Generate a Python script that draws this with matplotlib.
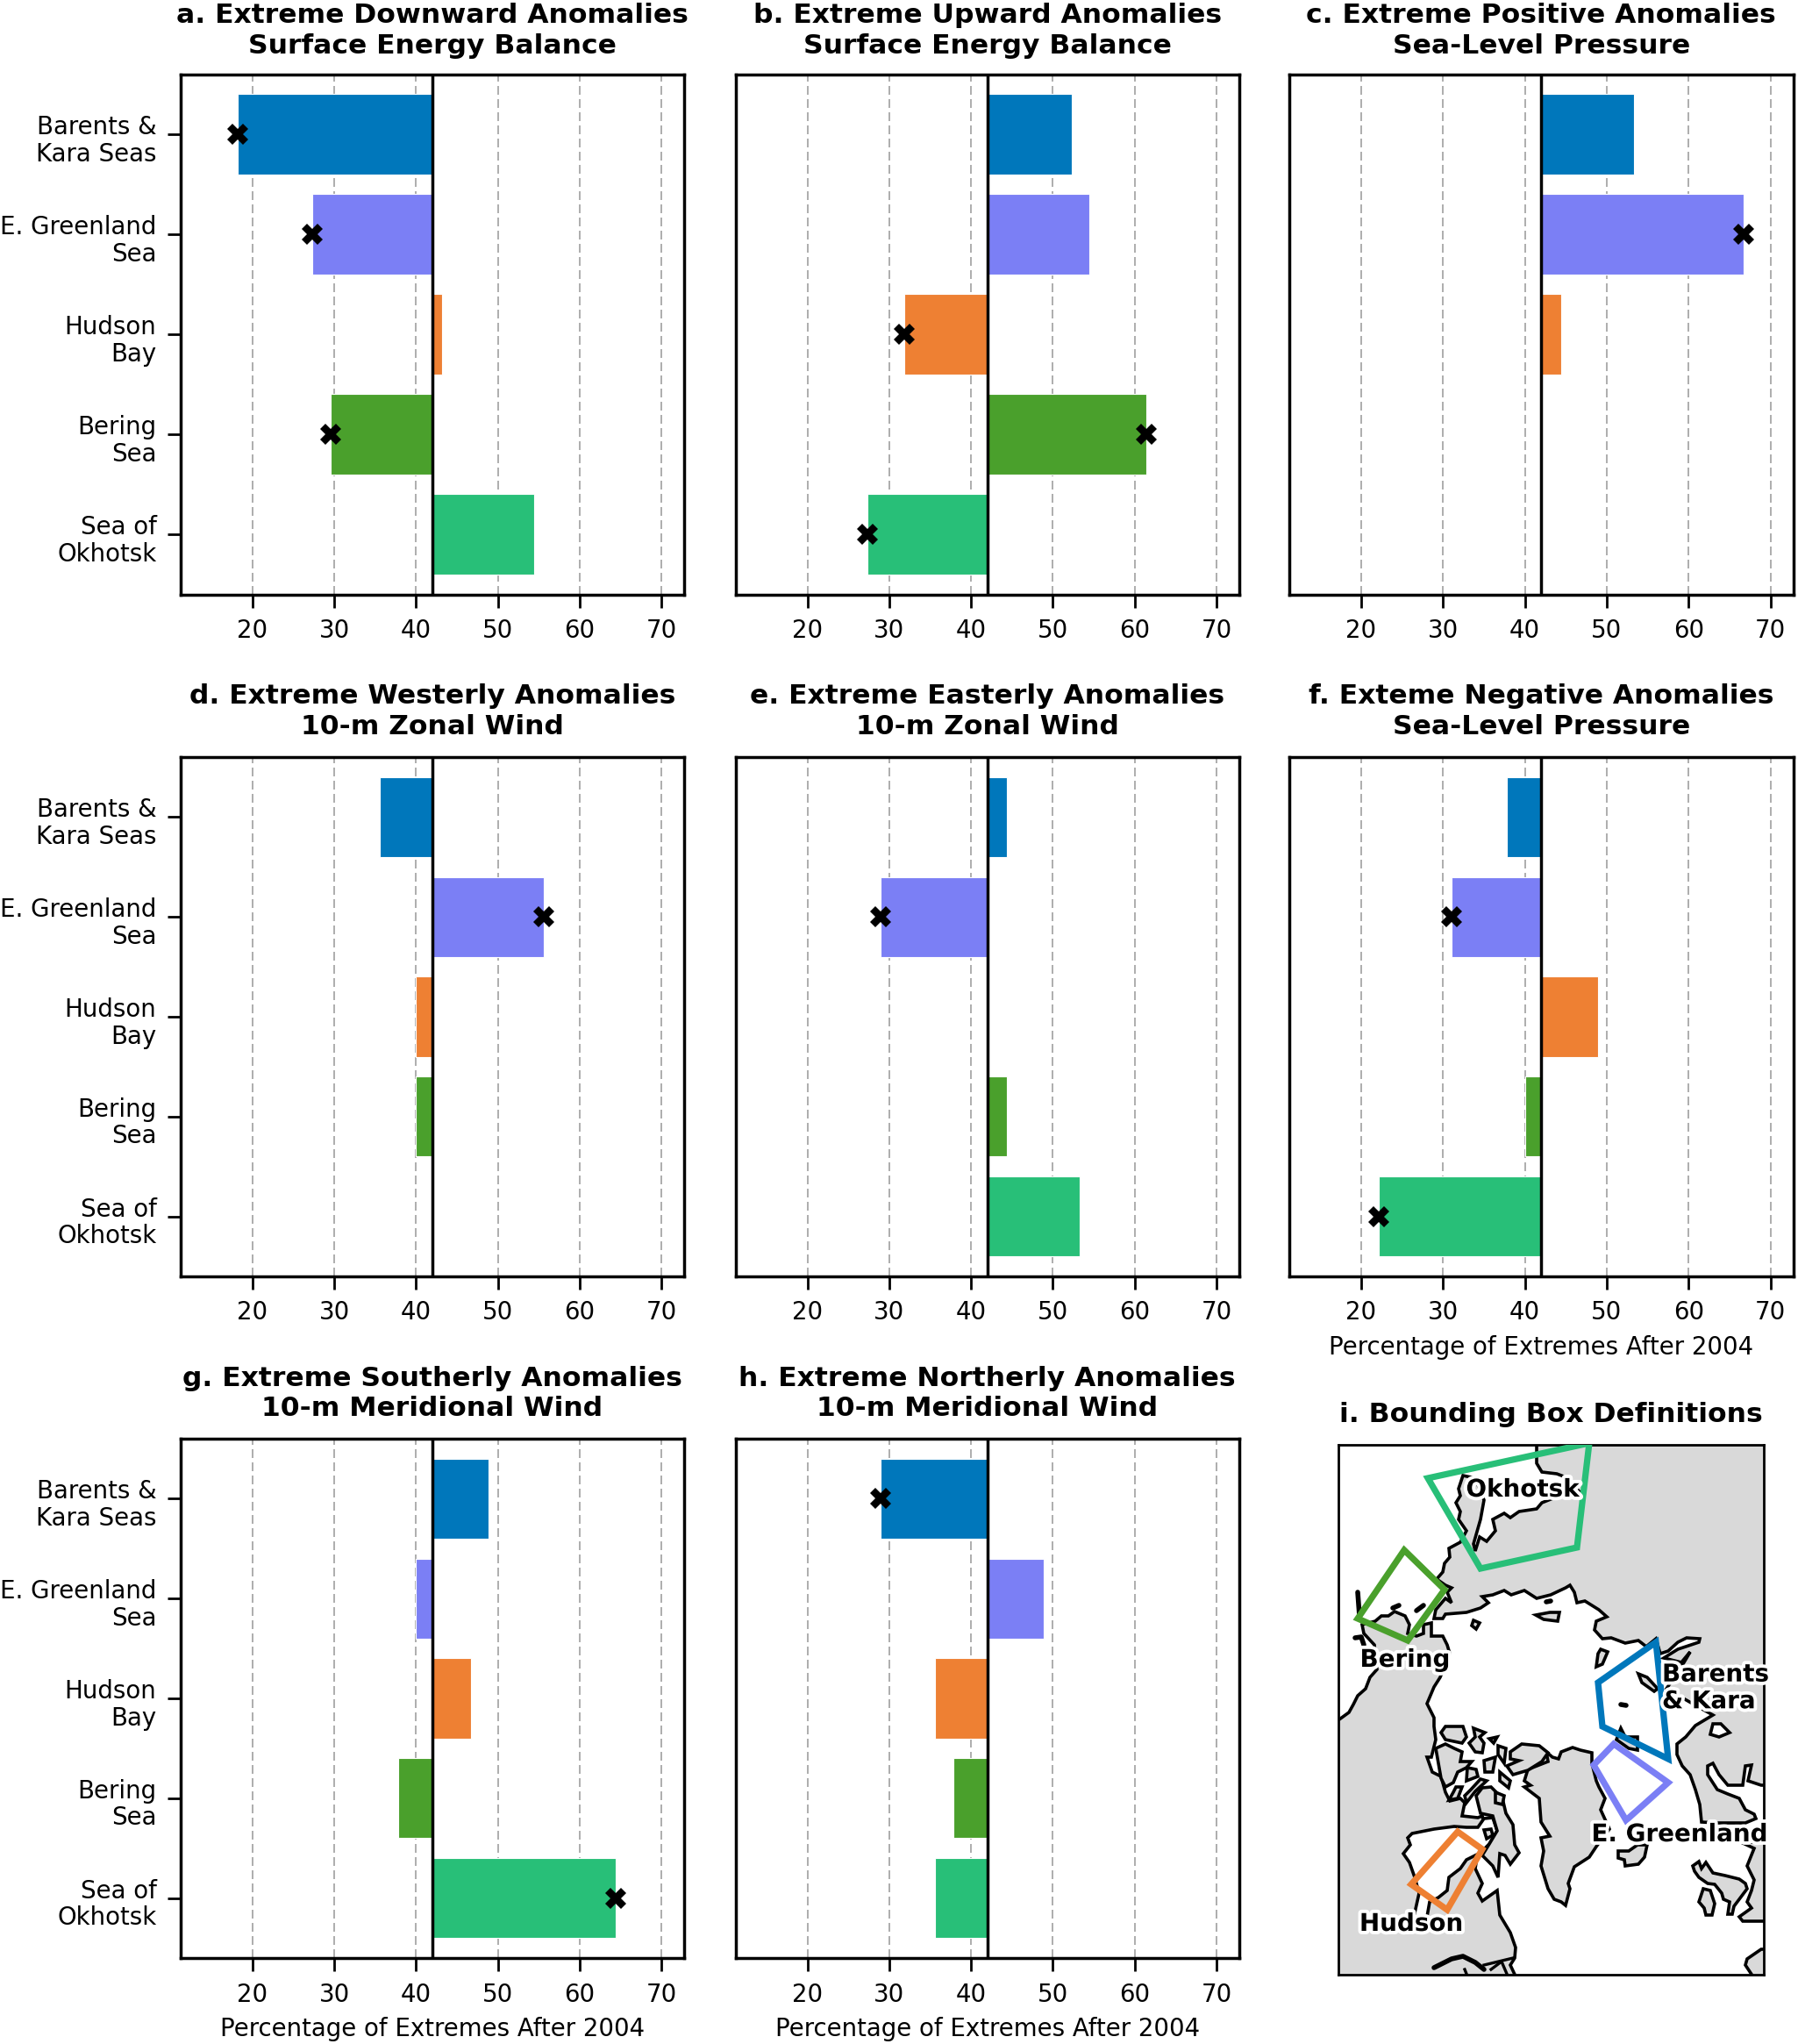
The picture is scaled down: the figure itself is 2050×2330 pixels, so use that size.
import matplotlib
matplotlib.use('Agg')
import matplotlib.pyplot as plt
from matplotlib.patches import Polygon
from matplotlib.transforms import ScaledTranslation
import matplotlib.patheffects as pe

W, H = 2050, 2330

regions = ["Barents &\nKara Seas", "E. Greenland\nSea", "Hudson\nBay", "Bering\nSea", "Sea of\nOkhotsk"]
colors = ["#0077bb", "#7b7ff5", "#ee8033", "#4aa02c", "#28bf78"]
xticks = [20, 30, 40, 50, 60, 70]
base = 42.0

titles = ["a. Extreme Downward Anomalies\nSurface Energy Balance",
          "b. Extreme Upward Anomalies\nSurface Energy Balance",
          "c. Extreme Positive Anomalies\nSea-Level Pressure",
          "d. Extreme Westerly Anomalies\n10-m Zonal Wind",
          "e. Extreme Easterly Anomalies\n10-m Zonal Wind",
          "f. Exteme Negative Anomalies\nSea-Level Pressure",
          "g. Extreme Southerly Anomalies\n10-m Meridional Wind",
          "h. Extreme Northerly Anomalies\n10-m Meridional Wind"]

vals_a = [18.2, 27.3, 43.2, 29.6, 54.5]
vals_b = [52.3, 54.5, 31.8, 61.4, 27.3]
vals_c = [53.3, 66.7, 44.4, 42.0, 42.0]
vals_d = [35.6, 55.6, 40.0, 40.0, 42.0]
vals_e = [44.4, 28.9, 42.0, 44.4, 53.3]
vals_f = [37.8, 31.1, 48.9, 40.0, 22.2]
vals_g = [48.9, 40.0, 46.7, 37.8, 64.4]
vals_h = [28.9, 48.9, 35.6, 37.8, 35.6]
all_vals = [vals_a, vals_b, vals_c, vals_d, vals_e, vals_f, vals_g, vals_h]

# which regions are significant in each panel
sig_a = [0, 1, 3]
sig_b = [2, 3, 4]
sig_c = [1]
sig_d = [1]
sig_e = [1]
sig_f = [1, 4]
sig_g = [4]
sig_h = [0]
all_sig = [sig_a, sig_b, sig_c, sig_d, sig_e, sig_f, sig_g, sig_h]

xlabel = "Percentage of Extremes After 2004"

# map outlines, in its pixel coords
eurasia = [(1752,1647),(1752,1668),(1758,1678),(1775,1680),(1788,1685),(1802,1702),(1778,1705),(1758,1713),
           (1752,1720),(1732,1723),(1722,1730),(1715,1725),(1702,1732),(1705,1745),(1695,1757),(1687,1752),
           (1682,1768),(1680,1760),(1688,1732),(1692,1710),(1682,1685),(1668,1682),(1663,1697),(1665,1705),
           (1660,1713),(1665,1723),(1663,1732),(1672,1745),(1665,1758),(1652,1765),(1653,1775),(1647,1782),
           (1645,1792),(1638,1800),(1648,1807),(1655,1810),(1650,1815),(1655,1827),(1648,1822),(1637,1835),
           (1635,1845),(1645,1845),(1648,1840),(1672,1838),(1688,1833),(1697,1827),(1690,1820),(1702,1818),
           (1715,1813),(1723,1818),(1738,1813),(1752,1822),(1768,1818),(1785,1810),(1790,1807),(1795,1815),
           (1798,1827),(1807,1825),(1823,1835),(1832,1843),(1820,1848),(1818,1858),(1827,1868),(1837,1867),
           (1853,1873),(1868,1870),(1877,1877),(1888,1868),(1893,1885),(1902,1882),(1913,1872),(1923,1867),
           (1938,1868),(1937,1872),(1913,1880),(1897,1890),(1917,1895),(1927,1883),(1923,1890),(1917,1900),
           (1900,1925),(1935,1945),(1953,1955),(1933,1967),(1922,1980),(1912,1988),(1912,2000),(1918,2013),
           (1927,2023),(1933,2040),(1938,2057),(1940,2077),(1957,2078),(1990,2078),(2002,2073),(2000,2068),
           (1990,2063),(1983,2050),(1970,2045),(1958,2040),(1947,2023),(1947,2013),(1953,2010),(1960,2023),
           (1970,2035),(1987,2035),(1990,2013),(1997,2012),(1993,2030),(2008,2035),(2015,2035),(2015,1640),(1752,1640)]
white_sea = [(1953,1965),(1962,1965),(1972,1975),(1960,1980),(1950,1977)]
europe = [(1985,2100),(2000,2107),(1992,2127),(2000,2143),(1997,2155),(1992,2168),(1997,2175),(1983,2185),
          (1987,2190),(2015,2190),(2015,2100)]
iberia = [(2015,2222),(2008,2222),(1992,2233),(1990,2240),(2000,2255),(2015,2255)]
uk = [(1930,2127),(1937,2122),(1940,2130),(1945,2123),(1953,2135),(1967,2138),(1983,2142),(1990,2147),
      (1992,2153),(1977,2173),(1975,2182),(1970,2182),(1972,2168),(1965,2165),(1963,2158),(1955,2148),
      (1947,2147),(1937,2140),(1932,2133)]
ireland = [(1942,2153),(1950,2155),(1955,2170),(1952,2183),(1945,2183),(1943,2175),(1937,2168)]
iceland = [(1845,2110),(1857,2110),(1867,2103),(1878,2103),(1875,2117),(1868,2125),(1853,2127),(1852,2120),(1845,2118)]
greenland = [(1738,2037),(1755,2050),(1757,2077),(1767,2093),(1757,2095),(1760,2110),(1757,2127),(1765,2153),
             (1772,2165),(1780,2168),(1785,2172),(1790,2153),(1788,2147),(1795,2128),(1812,2117),(1820,2105),
             (1835,2085),(1825,2063),(1830,2050),(1823,2037),(1820,2030),(1815,2010),(1815,1998),(1802,1995),
             (1793,1992),(1780,1997),(1777,2005),(1770,2003),(1763,1997),(1765,2008),(1742,2017),(1738,2030),(1745,2035)]
america = [(1520,1962),(1527,1960),(1538,1952),(1543,1943),(1548,1933),(1557,1925),(1562,1912),(1570,1903),
           (1567,1875),(1555,1862),(1553,1852),(1568,1848),(1575,1842),(1583,1842),(1590,1837),(1602,1842),
           (1607,1852),(1605,1862),(1615,1865),(1623,1862),(1623,1852),(1632,1850),(1632,1865),(1645,1865),
           (1650,1875),(1653,1885),(1642,1912),(1635,1923),(1627,1942),(1635,1958),(1635,1968),(1637,1983),
           (1632,2003),(1627,2003),(1633,2020),(1643,2025),(1648,2043),(1653,2053),(1665,2050),(1670,2055),
           (1667,2070),(1685,2072),(1690,2070),(1692,2078),(1685,2110),(1682,2130),(1690,2147),(1685,2158),
           (1690,2167),(1707,2155),(1710,2183),(1722,2203),(1728,2220),(1727,2232),(1722,2240),(1729,2255),(1520,2255)]
hudson_bay = [(1605,2095),(1610,2090),(1635,2085),(1658,2082),(1672,2083),(1685,2083),(1692,2073),(1702,2072),
              (1707,2087),(1698,2102),(1688,2112),(1672,2120),(1665,2130),(1652,2140),(1650,2155),(1640,2163),
              (1630,2168),(1627,2185),(1612,2185),(1618,2158),(1613,2140),(1607,2123),(1600,2113),(1608,2103)]
baffin = [(1683,2047),(1690,2038),(1700,2037),(1713,2050),(1717,2067),(1725,2080),(1727,2103),(1732,2112),
          (1722,2125),(1716,2115),(1710,2113),(1708,2140),(1702,2127),(1692,2117),(1690,2115),(1698,2102),
          (1707,2087),(1702,2070),(1688,2067)]
islands = [[(1643,1975),(1648,1968),(1668,1968),(1672,1980),(1667,1987),(1648,1983)],
           [(1637,1993),(1648,1988),(1658,1993),(1667,1997),(1665,2008),(1678,2008),(1672,2015),(1662,2020),
            (1657,2032),(1648,2037),(1643,2027),(1640,2010)],
           [(1680,1970),(1693,1975),(1687,1980),(1692,1987),(1690,1998),(1682,1997),(1675,1987),(1682,1980)],
           [(1698,1982),(1707,1980),(1703,1987)],
           [(1708,1990),(1717,1993),(1715,2010),(1708,2000)],
           [(1692,2007),(1705,2003),(1702,2020),(1693,2020)],
           [(1722,1997),(1735,1988),(1755,1990),(1765,1998),(1758,2008),(1742,2018),(1725,2023),(1718,2013),(1732,2007),(1722,2005)],
           [(1673,2015),(1683,2017),(1685,2025),(1672,2030)],
           [(1705,2043),(1715,2047),(1713,2057),(1705,2055)],
           [(1710,2020),(1722,2030),(1720,2038),(1710,2030)],
           [(1660,2037),(1667,2037),(1662,2050),(1652,2052),(1657,2043)],
           [(1677,2040),(1688,2028),(1695,2030),(1682,2042),(1672,2055),(1670,2047)],
           [(1692,2086),(1700,2085),(1702,2092),(1695,2096)],
           [(1680,1847),(1687,1850),(1683,1857),(1678,1853)],
           [(1751,1841),(1767,1838),(1778,1838),(1776,1848),(1760,1846)],
           [(1825,1880),(1833,1883),(1827,1897),(1820,1900),(1822,1885)],
           [(1868,1908),(1878,1912),(1890,1925),(1886,1928),(1872,1918)],
           [(1843,1983),(1848,1970),(1853,1980),(1867,1980),(1867,1995),(1857,1993)]]
thick_bits = [[(1548,1815),(1550,1842)],[(1615,1836),(1623,1830)],[(1588,1833),(1595,1830)],
              [(1635,2243),(1655,2233),(1668,2230),(1682,2237),(1692,2245)],[(1848,1943),(1854,1944)],
              [(1763,1826),(1768,1825)],[(1545,1867),(1552,1866),(1555,1875)]]
thin_bits = [[(1692,2240),(1725,2232)],[(1670,2245),(1672,2250)],[(1700,2245),(1712,2236),(1718,2250)]]

box_barents = [(1888,1872),(1902,2005),(1827,1968),(1822,1918)]
box_greenland = [(1840,1988),(1902,2032),(1854,2075),(1817,2012)]
box_hudson = [(1662,2088),(1690,2108),(1650,2177),(1609,2148)]
box_bering = [(1601,1767),(1647,1812),(1605,1870),(1548,1845)]
box_okhotsk = [(1628,1685),(1812,1645),(1798,1764),(1688,1788)]
all_boxes = [box_barents, box_greenland, box_hudson, box_bering, box_okhotsk]

box_labels = ["Okhotsk", "Bering", "Barents\n& Kara", "E. Greenland", "Hudson"]
label_xy = [(1736,1698), (1602,1892), (1895,1924), (1915,2091), (1609,2193)]
label_ha = ["center", "center", "left", "center", "center"]

col_px = [(206, 780), (838.5, 1413), (1469.5, 2045)]
row_px = [(84.5, 677.5), (863, 1455), (1640, 2232)]
title_pad = [8.5, 9.5, 9.2]


def px_axes(fig, left, top, right, bottom):
    return fig.add_axes([left / W, 1 - bottom / H, (right - left) / W, (bottom - top) / H])


plt.rcParams['font.family'] = 'DejaVu Sans'
fig = plt.figure(figsize=(W / 200, H / 200), dpi=200)
label_shift = ScaledTranslation(0, -3 / 200, fig.dpi_scale_trans)

for i in range(8):
    c = col_px[i % 3]
    r = row_px[i // 3]
    ax = px_axes(fig, c[0], r[0], c[1], r[1])
    vals = all_vals[i]
    ax.grid(axis='x', color='#a0a0a0', linestyle=(0, (6, 3)), linewidth=0.6, zorder=0)
    ax.set_axisbelow(True)
    for j in range(5):
        ax.barh(j, vals[j] - base, left=base, height=0.8, color=colors[j],
                edgecolor='white', linewidth=0.4, zorder=2)
    ax.axvline(base, color='k', linewidth=1.25, zorder=3)
    for j in all_sig[i]:
        ax.plot(vals[j], j, marker='X', color='k', markersize=8.5, markeredgewidth=0, zorder=4)
    ax.set_xlim(11.2, 72.8)
    ax.set_ylim(4.6, -0.6)
    ax.set_xticks(xticks)
    ax.set_yticks(range(5))
    ax.tick_params(axis='x', labelsize=9.95, length=5.4, width=1, pad=4.5)
    if i % 3 == 0:
        ax.set_yticklabels(regions, ha='right', multialignment='right', linespacing=1.12, va='center_baseline')
        ax.tick_params(axis='y', labelsize=9.95, length=5.4, width=1, pad=4.5)
        for lab in ax.get_yticklabels():
            lab.set_transform(lab.get_transform() + label_shift)
    else:
        ax.set_yticklabels([])
        ax.tick_params(axis='y', length=0)
    for s in ax.spines.values():
        s.set_linewidth(1.25)
    ax.set_title(titles[i], fontsize=11.3, fontweight='bold', pad=title_pad[i // 3], linespacing=1.25)
    if i >= 5:
        ax.set_xlabel(xlabel, fontsize=9.95, labelpad=4)

# map panel
mp = px_axes(fig, 1526, 1647, 2011, 2251)
mp.set_xlim(1526, 2011)
mp.set_ylim(2251, 1647)
mp.set_xticks([])
mp.set_yticks([])
for s in mp.spines.values():
    s.set_linewidth(1.0)
mp.set_title("i. Bounding Box Definitions", fontsize=11.3, fontweight='bold', pad=9.2)

for poly in [eurasia, america, greenland, europe, iberia, uk, ireland, iceland]:
    mp.add_patch(Polygon(poly, closed=True, facecolor='#d9d9d9', edgecolor='k', linewidth=1.3, zorder=1))
mp.add_patch(Polygon(hudson_bay, closed=True, facecolor='white', edgecolor='k', linewidth=1.3, zorder=1.2))
mp.add_patch(Polygon(white_sea, closed=True, facecolor='white', edgecolor='k', linewidth=1.3, zorder=1.2))
mp.add_patch(Polygon(baffin, closed=True, facecolor='#d9d9d9', edgecolor='k', linewidth=1.3, zorder=1.3))
for poly in islands:
    mp.add_patch(Polygon(poly, closed=True, facecolor='#d9d9d9', edgecolor='k', linewidth=1.3, zorder=1.4))
for seg in thick_bits:
    mp.plot([p[0] for p in seg], [p[1] for p in seg], color='k', linewidth=2.0, zorder=1.5, solid_capstyle='round')
for seg in thin_bits:
    mp.plot([p[0] for p in seg], [p[1] for p in seg], color='k', linewidth=1.2, zorder=1.5)

for box, col in zip(all_boxes, colors):
    mp.add_patch(Polygon(box, closed=True, facecolor='none', edgecolor=col, linewidth=2.6, zorder=3))

for txt, xy, ha in zip(box_labels, label_xy, label_ha):
    mp.text(xy[0], xy[1], txt, fontsize=10, fontweight='bold', ha=ha, va='center', zorder=5,
            linespacing=1.12, clip_on=False,
            path_effects=[pe.withStroke(linewidth=2.8, foreground='white')])

fig.savefig('out.png', dpi=200)
